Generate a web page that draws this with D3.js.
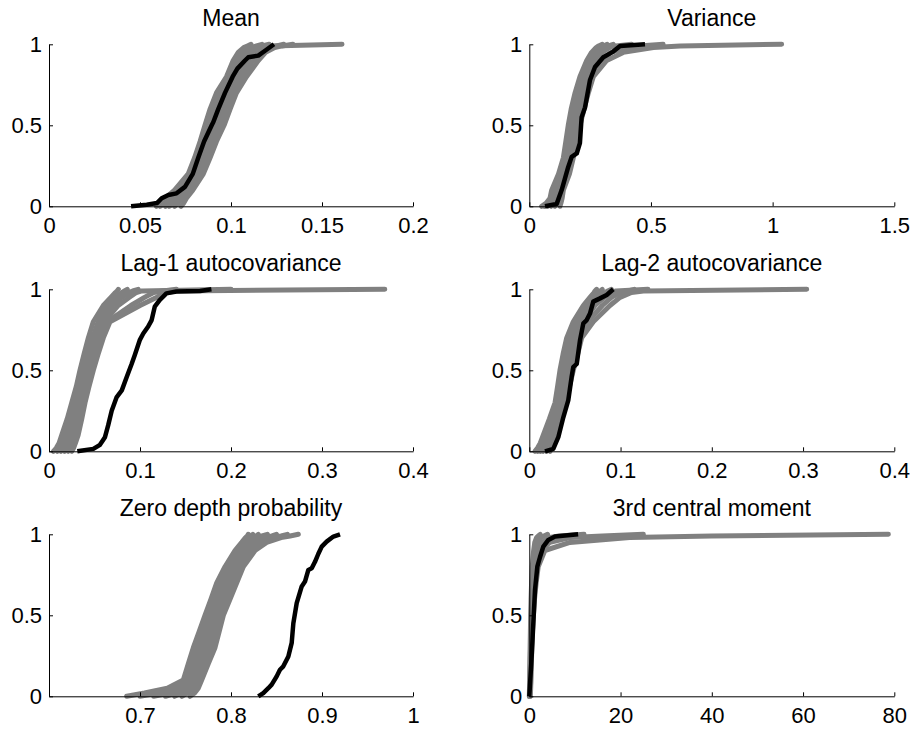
<!DOCTYPE html>
<html>
<head>
<meta charset="utf-8">
<script src="https://cdn.jsdelivr.net/npm/d3@7"></script>
<style>
  body { margin: 0; background: #fff; }
  svg { display: block; }
  text { font-family: "Liberation Sans", Arial, Helvetica, sans-serif; fill: #000; }
</style>
</head>
<body>
<svg id="chart" width="914" height="732"></svg>
<script>
// Cumulative probability levels at which the simulated CDFs are listed
const probs = [0, 0.02, 0.05, 0.1, 0.2, 0.3, 0.4, 0.5, 0.6, 0.7, 0.8, 0.9, 0.95, 0.98, 0.99, 1];

const titles = ["Mean", "Variance", "Lag-1 autocovariance", "Lag-2 autocovariance",
                "Zero depth probability", "3rd central moment"];

const xDomains = [[0, 0.2], [0, 1.5], [0, 0.4], [0, 0.4], [0.6, 1], [0, 80]];
const xTicks = [
  [0, 0.05, 0.1, 0.15, 0.2],
  [0, 0.5, 1, 1.5],
  [0, 0.1, 0.2, 0.3, 0.4],
  [0, 0.1, 0.2, 0.3, 0.4],
  [0.7, 0.8, 0.9, 1],
  [0, 20, 40, 60, 80]
];
const yTicks = [0, 0.5, 1];

// Simulated statistics (grey): one row per simulated series, values at `probs`
const simMean = [
  [0.059, 0.062, 0.064, 0.069, 0.0765, 0.080, 0.083, 0.0857, 0.0885, 0.092, 0.0975, 0.1012, 0.104, 0.107, 0.109, 0.111],
  [0.061, 0.064, 0.066, 0.071, 0.078, 0.0818, 0.0848, 0.0875, 0.0905, 0.094, 0.099, 0.1035, 0.107, 0.111, 0.114, 0.117],
  [0.064, 0.066, 0.068, 0.073, 0.0798, 0.0835, 0.0866, 0.0895, 0.0925, 0.096, 0.101, 0.106, 0.110, 0.114, 0.117, 0.121],
  [0.066, 0.069, 0.070, 0.075, 0.0815, 0.085, 0.0885, 0.0915, 0.095, 0.0985, 0.1035, 0.109, 0.113, 0.118, 0.122, 0.161],
  [0.069, 0.071, 0.073, 0.077, 0.083, 0.0868, 0.0903, 0.094, 0.097, 0.101, 0.106, 0.112, 0.116, 0.121, 0.125, 0.129],
  [0.0725, 0.074, 0.0755, 0.079, 0.0848, 0.0885, 0.092, 0.0962, 0.0995, 0.103, 0.1085, 0.115, 0.119, 0.124, 0.128, 0.134]
];
const simVariance = [
  [0.051, 0.070, 0.085, 0.092, 0.120, 0.140, 0.150, 0.160, 0.172, 0.188, 0.208, 0.236, 0.256, 0.275, 0.285, 0.300],
  [0.062, 0.078, 0.090, 0.102, 0.130, 0.148, 0.160, 0.170, 0.182, 0.197, 0.218, 0.247, 0.268, 0.290, 0.305, 0.320],
  [0.075, 0.088, 0.098, 0.112, 0.140, 0.157, 0.169, 0.180, 0.192, 0.207, 0.228, 0.258, 0.282, 0.305, 0.325, 0.345],
  [0.090, 0.100, 0.110, 0.122, 0.150, 0.166, 0.179, 0.190, 0.203, 0.218, 0.240, 0.272, 0.300, 0.330, 0.355, 0.420],
  [0.105, 0.113, 0.122, 0.132, 0.158, 0.174, 0.188, 0.200, 0.214, 0.230, 0.252, 0.292, 0.335, 0.400, 0.450, 0.550],
  [0.126, 0.130, 0.135, 0.140, 0.165, 0.181, 0.195, 0.208, 0.225, 0.2426, 0.263, 0.318, 0.386, 0.510, 0.620, 1.037]
];
const simLag1 = [
  [0.0048, 0.008, 0.011, 0.014, 0.020, 0.025, 0.030, 0.034, 0.0385, 0.0432, 0.0487, 0.0597, 0.068, 0.073, 0.075, 0.0762],
  [0.009, 0.012, 0.015, 0.018, 0.024, 0.029, 0.034, 0.038, 0.043, 0.048, 0.054, 0.065, 0.074, 0.080, 0.083, 0.086],
  [0.013, 0.016, 0.019, 0.022, 0.027, 0.031, 0.036, 0.041, 0.046, 0.051, 0.058, 0.070, 0.080, 0.088, 0.092, 0.098],
  [0.017, 0.020, 0.023, 0.026, 0.030, 0.034, 0.039, 0.044, 0.049, 0.054, 0.061, 0.076, 0.088, 0.096, 0.102, 0.200],
  [0.021, 0.023, 0.026, 0.029, 0.033, 0.037, 0.042, 0.046, 0.051, 0.057, 0.064, 0.090, 0.105, 0.115, 0.125, 0.140],
  [0.025, 0.027, 0.029, 0.032, 0.036, 0.0396, 0.044, 0.0487, 0.054, 0.0597, 0.067, 0.100, 0.118, 0.128, 0.140, 0.369]
];
const simLag2 = [
  [0.0062, 0.009, 0.012, 0.0153, 0.022, 0.0282, 0.031, 0.0336, 0.037, 0.041, 0.0482, 0.0592, 0.0665, 0.071, 0.072, 0.0738],
  [0.009, 0.012, 0.015, 0.018, 0.025, 0.030, 0.033, 0.036, 0.040, 0.044, 0.051, 0.062, 0.070, 0.076, 0.078, 0.080],
  [0.012, 0.015, 0.018, 0.021, 0.028, 0.033, 0.036, 0.039, 0.043, 0.047, 0.055, 0.067, 0.076, 0.083, 0.086, 0.090],
  [0.015, 0.018, 0.021, 0.024, 0.030, 0.035, 0.039, 0.042, 0.046, 0.050, 0.059, 0.072, 0.082, 0.090, 0.095, 0.130],
  [0.019, 0.021, 0.024, 0.027, 0.033, 0.038, 0.042, 0.045, 0.050, 0.054, 0.064, 0.080, 0.090, 0.100, 0.108, 0.115],
  [0.0227, 0.024, 0.027, 0.030, 0.035, 0.0402, 0.044, 0.0482, 0.053, 0.0574, 0.0701, 0.0884, 0.0994, 0.112, 0.125, 0.304]
];
const simZeroDepth = [
  [0.6854, 0.705, 0.730, 0.7476, 0.753, 0.7586, 0.765, 0.7714, 0.778, 0.7843, 0.7934, 0.8044, 0.8118, 0.816, 0.818, 0.819],
  [0.700, 0.720, 0.738, 0.750, 0.757, 0.763, 0.769, 0.775, 0.781, 0.788, 0.797, 0.808, 0.815, 0.820, 0.822, 0.824],
  [0.715, 0.733, 0.744, 0.753, 0.761, 0.767, 0.773, 0.779, 0.785, 0.792, 0.800, 0.812, 0.819, 0.825, 0.828, 0.830],
  [0.728, 0.740, 0.749, 0.757, 0.765, 0.771, 0.777, 0.783, 0.789, 0.796, 0.804, 0.815, 0.823, 0.830, 0.834, 0.840],
  [0.738, 0.746, 0.754, 0.761, 0.768, 0.775, 0.781, 0.786, 0.793, 0.800, 0.807, 0.819, 0.828, 0.838, 0.845, 0.850],
  [0.746, 0.752, 0.759, 0.764, 0.772, 0.779, 0.784, 0.789, 0.796, 0.803, 0.810, 0.822, 0.834, 0.846, 0.855, 0.862],
  [0.755, 0.760, 0.764, 0.7678, 0.775, 0.7824, 0.787, 0.7916, 0.799, 0.8063, 0.8135, 0.8264, 0.8392, 0.855, 0.865, 0.874]
];
const simMoment3 = [
  [0, 0.02, 0.04, 0.07, 0.12, 0.18, 0.24, 0.30, 0.38, 0.50, 0.65, 0.95, 1.2, 1.6, 2.0, 2.4],
  [0.05, 0.08, 0.10, 0.14, 0.20, 0.27, 0.34, 0.42, 0.52, 0.65, 0.85, 1.3, 1.8, 2.6, 3.2, 4.0],
  [0.10, 0.15, 0.20, 0.24, 0.30, 0.38, 0.48, 0.60, 0.75, 0.95, 1.25, 1.9, 2.8, 4.5, 6.5, 12],
  [0.15, 0.20, 0.25, 0.30, 0.38, 0.47, 0.58, 0.74, 0.94, 1.2, 1.6, 2.5, 4.5, 9, 16, 25],
  [0.20, 0.25, 0.30, 0.35, 0.45, 0.55, 0.70, 0.90, 1.15, 1.5, 1.95, 3.4, 8.9, 22, 40, 78.7]
];

// Observed statistics (black): cumulative probability and value pairs
const obsMeanP = [0, 0.01, 0.02, 0.05, 0.07, 0.08, 0.12, 0.2, 0.3, 0.4, 0.5, 0.52, 0.6, 0.7, 0.8, 0.85, 0.9, 0.92, 0.93, 0.96, 1];
const obsMeanX = [0.0451, 0.0537, 0.0593, 0.0619, 0.0656, 0.0701, 0.0747, 0.079, 0.082, 0.0852, 0.0894, 0.0903, 0.093, 0.0967, 0.1009, 0.1035, 0.1077, 0.1095, 0.115, 0.1187, 0.1236];
const obsVarP = [0, 0.015, 0.1, 0.243, 0.305, 0.326, 0.39, 0.55, 0.61, 0.78, 0.86, 0.92, 0.955, 0.99, 1];
const obsVarX = [0.0645, 0.1126, 0.133, 0.160, 0.174, 0.195, 0.208, 0.215, 0.229, 0.2495, 0.270, 0.304, 0.345, 0.373, 0.4755];
const obsLag1P = [0, 0.015, 0.04, 0.087, 0.16, 0.25, 0.335, 0.376, 0.459, 0.54, 0.593, 0.686, 0.727, 0.77, 0.81, 0.893, 0.934, 0.975, 0.986, 0.99, 1];
const obsLag1X = [0.0311, 0.0487, 0.056, 0.0615, 0.065, 0.0689, 0.0744, 0.080, 0.0854, 0.0909, 0.0942, 0.0997, 0.1036, 0.109, 0.1128, 0.1162, 0.1218, 0.129, 0.140, 0.166, 0.1785];
const obsLag2P = [0, 0.015, 0.087, 0.21, 0.314, 0.459, 0.52, 0.54, 0.686, 0.79, 0.81, 0.85, 0.924, 0.944, 0.965, 1];
const obsLag2X = [0.0172, 0.0263, 0.0318, 0.0373, 0.0427, 0.0464, 0.0482, 0.052, 0.0556, 0.0592, 0.0629, 0.0665, 0.0701, 0.0775, 0.0848, 0.092];
const obsZeroP = [0, 0.02, 0.05, 0.072, 0.123, 0.164, 0.185, 0.246, 0.33, 0.45, 0.575, 0.678, 0.708, 0.78, 0.79, 0.83, 0.88, 0.924, 0.955, 0.986, 1];
const obsZeroX = [0.830, 0.8355, 0.841, 0.8447, 0.8502, 0.8538, 0.8575, 0.863, 0.8667, 0.8685, 0.8722, 0.8777, 0.8813, 0.885, 0.8887, 0.8923, 0.896, 0.8997, 0.9051, 0.9125, 0.9198];
const obsM3P = [0, 0.246, 0.45, 0.657, 0.8, 0.86, 0.924, 0.965, 0.986, 1];
const obsM3X = [0, 0.52, 0.88, 1.25, 1.76, 2.35, 3.07, 4.17, 5.63, 10.7];

const simSets = [simMean, simVariance, simLag1, simLag2, simZeroDepth, simMoment3];
const obsSets = [[obsMeanP, obsMeanX], [obsVarP, obsVarX], [obsLag1P, obsLag1X],
                 [obsLag2P, obsLag2X], [obsZeroP, obsZeroX], [obsM3P, obsM3X]];

// Layout of the 3 x 2 grid of axes
const colX = [[49, 413], [529.3, 894.3]];
const rowTop = [44.3, 289.3, 534.3];
const plotH = 162;

const svg = d3.select("#chart");

titles.forEach((title, i) => {
  const col = i % 2, row = Math.floor(i / 2);
  const [x0, x1] = colX[col];
  const top = rowTop[row], bottom = top + plotH;

  const x = d3.scaleLinear().domain(xDomains[i]).range([x0, x1]);
  const y = d3.scaleLinear().domain([0, 1]).range([bottom, top]);
  const g = svg.append("g");

  const line = d3.line().x(d => x(d[0])).y(d => y(d[1]));

  // Simulated CDFs
  g.append("g").selectAll("path")
    .data(simSets[i])
    .join("path")
    .attr("d", vals => line(vals.map((v, k) => [v, probs[k]])))
    .attr("fill", "none")
    .attr("stroke", "#808080")
    .attr("stroke-width", 5)
    .attr("stroke-linejoin", "round")
    .attr("stroke-linecap", "round");

  // Observed CDF
  const [pArr, xArr] = obsSets[i];
  g.append("path")
    .attr("d", line(xArr.map((v, k) => [v, pArr[k]])))
    .attr("fill", "none")
    .attr("stroke", "#000")
    .attr("stroke-width", 4.5)
    .attr("stroke-linejoin", "round");

  // x axis with inward ticks
  const xAxis = d3.axisBottom(x).tickValues(xTicks[i])
    .tickFormat(d => String(d)).tickSizeInner(-4).tickSizeOuter(0).tickPadding(11);
  const xa = g.append("g").attr("transform", `translate(0,${bottom})`).call(xAxis);
  xa.select(".domain").attr("stroke", "#000").attr("stroke-width", 1);
  xa.selectAll(".tick line").attr("stroke", "#000");
  xa.selectAll(".tick text").attr("font-size", 22).attr("dy", "0.71em")
    .attr("y", 11).style("font-family", '"Liberation Sans", Arial, sans-serif');

  // y axis with inward ticks
  const yAxis = d3.axisLeft(y).tickValues(yTicks)
    .tickFormat(d => String(d)).tickSizeInner(-4).tickSizeOuter(0).tickPadding(8);
  const ya = g.append("g").attr("transform", `translate(${x0},0)`).call(yAxis);
  ya.select(".domain").attr("stroke", "#000").attr("stroke-width", 1);
  ya.selectAll(".tick line").attr("stroke", "#000");
  ya.selectAll(".tick text").attr("font-size", 22).attr("x", -7)
    .style("font-family", '"Liberation Sans", Arial, sans-serif');

  // Title
  g.append("text")
    .attr("x", (x0 + x1) / 2)
    .attr("y", top - 18)
    .attr("text-anchor", "middle")
    .attr("font-size", 23)
    .text(title);
});
</script>
</body>
</html>
